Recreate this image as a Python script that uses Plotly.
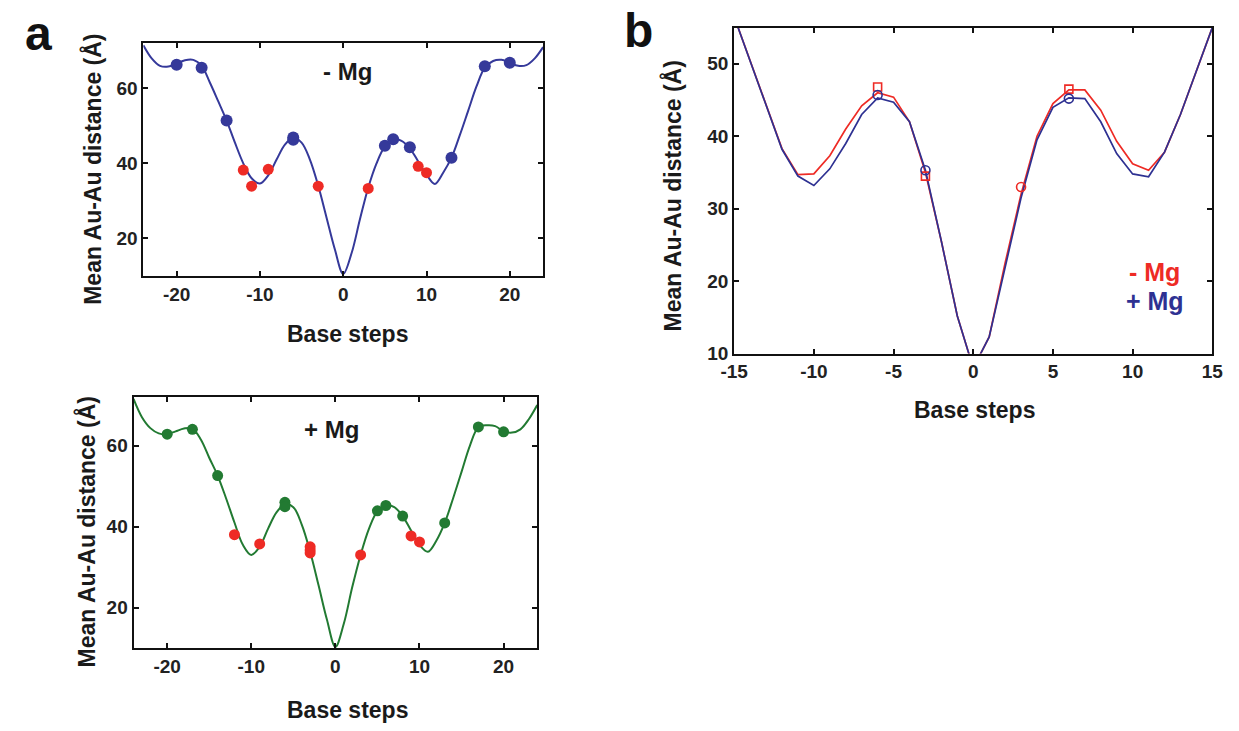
import plotly.graph_objects as go

# ---------------- panel a: fitted Au-Au distance profiles ----------------
steps_a = list(range(-24, 25))

fit_minus_mg = [71.5, 68.0, 66.0, 65.8, 66.6, 67.5, 67.6, 66.0, 61.5, 56.5,
                51.4, 45.5, 40.0, 36.0, 34.6, 36.8, 41.0, 45.0, 46.8, 45.5,
                41.0, 34.0, 25.5, 17.0, 10.5, 16.0, 25.0, 33.5, 40.0, 44.5,
                46.5, 46.0, 44.0, 40.5, 37.0, 34.5, 37.5, 41.5, 47.5, 54.0,
                60.5, 65.5, 67.3, 67.6, 66.8, 66.0, 66.2, 68.0, 71.0]

fit_plus_mg = [71.5, 67.0, 64.3, 63.0, 62.8, 63.5, 64.2, 64.2, 61.5, 57.0,
               52.6, 47.0, 41.0, 35.5, 33.0, 35.0, 39.5, 43.5, 45.5, 44.8,
               40.5, 33.8, 25.5, 17.0, 10.3, 16.0, 25.0, 33.0, 39.5, 43.8,
               45.3, 44.8, 42.6, 39.0, 35.5, 33.8, 36.5, 40.9, 47.0, 53.5,
               60.0, 64.5, 65.0, 64.8, 63.5, 63.2, 64.0, 66.5, 70.0]

# measured points (-Mg): reference constructs and new constructs
ref_x_minus = [-20, -17, -14, -6, -6, 5, 6, 8, 13, 17, 20]
ref_y_minus = [66.3, 65.5, 51.4, 46.3, 46.9, 44.7, 46.4, 44.3, 41.5, 65.9, 66.8]
new_x_minus = [-12, -11, -9, -3, 3, 9, 10]
new_y_minus = [38.2, 33.9, 38.4, 33.9, 33.3, 39.2, 37.5]

# measured points (+Mg)
ref_x_plus = [-20, -17, -14, -6, -6, 5, 6, 8, 13, 17, 20]
ref_y_plus = [62.8, 64.0, 52.6, 46.0, 44.9, 43.9, 45.2, 42.6, 40.9, 64.6, 63.4]
new_x_plus = [-12, -9, -3, -3, -3, 3, 9, 10]
new_y_plus = [38.0, 35.7, 35.0, 34.2, 33.5, 33.0, 37.7, 36.2]

# ---------------- panel b: comparison of the two conditions ----------------
steps_b = list(range(-15, 16))
line_minus_mg = [56.5, 50.5, 44.3, 38.3, 34.7, 34.8, 37.3, 41.0, 44.2, 46.0,
                 45.4, 42.0, 35.0, 25.5, 15.2, 8.0, 12.3, 22.5, 32.0, 40.0,
                 44.5, 46.4, 46.4, 43.6, 39.3, 36.2, 35.3, 37.8, 43.0, 49.0, 55.0]
line_plus_mg = [56.5, 50.5, 44.3, 38.2, 34.5, 33.2, 35.5, 39.0, 43.0, 45.3,
                44.7, 42.0, 35.3, 25.5, 15.2, 8.0, 12.3, 22.0, 31.5, 39.5,
                44.0, 45.3, 45.2, 42.0, 37.6, 34.8, 34.4, 37.8, 43.0, 49.0, 55.0]

sq_x_minus = [-6, -3, 6]
sq_y_minus = [46.8, 34.5, 46.5]
circ_x_minus = [3]
circ_y_minus = [33.0]
circ_x_plus = [-6, -3, 6]
circ_y_plus = [45.7, 35.3, 45.2]

# tick positions and labels (plain hyphen for negatives)
ticks_a_x = [-20, -10, 0, 10, 20]
ticks_a_y = [20, 40, 60]
ticks_b_x = [-15, -10, -5, 0, 5, 10, 15]
ticks_b_y = [10, 20, 30, 40, 50]

BLUE = "#35399a"
NAVY = "#2e3192"
RED = "#ee2b25"
GREEN = "#227a32"
FONT = "Liberation Sans, Arial, sans-serif"

fig = go.Figure()

# panel a, top (-Mg)
fig.add_trace(go.Scatter(x=steps_a, y=fit_minus_mg, mode="lines",
                         line=dict(color=BLUE, width=2, shape="spline", smoothing=1.0),
                         xaxis="x", yaxis="y", showlegend=False))
fig.add_trace(go.Scatter(x=ref_x_minus, y=ref_y_minus, mode="markers",
                         marker=dict(color=BLUE, size=12),
                         xaxis="x", yaxis="y", showlegend=False))
fig.add_trace(go.Scatter(x=new_x_minus, y=new_y_minus, mode="markers",
                         marker=dict(color=RED, size=11),
                         xaxis="x", yaxis="y", showlegend=False))

# panel a, bottom (+Mg)
fig.add_trace(go.Scatter(x=steps_a, y=fit_plus_mg, mode="lines",
                         line=dict(color=GREEN, width=2, shape="spline", smoothing=1.0),
                         xaxis="x2", yaxis="y2", showlegend=False))
fig.add_trace(go.Scatter(x=ref_x_plus, y=ref_y_plus, mode="markers",
                         marker=dict(color=GREEN, size=11),
                         xaxis="x2", yaxis="y2", showlegend=False))
fig.add_trace(go.Scatter(x=new_x_plus, y=new_y_plus, mode="markers",
                         marker=dict(color=RED, size=11),
                         xaxis="x2", yaxis="y2", showlegend=False))

# panel b
fig.add_trace(go.Scatter(x=steps_b, y=line_minus_mg, mode="lines",
                         line=dict(color=RED, width=1.7),
                         xaxis="x3", yaxis="y3", showlegend=False))
fig.add_trace(go.Scatter(x=steps_b, y=line_plus_mg, mode="lines",
                         line=dict(color=NAVY, width=1.7),
                         xaxis="x3", yaxis="y3", showlegend=False))
fig.add_trace(go.Scatter(x=sq_x_minus, y=sq_y_minus, mode="markers",
                         marker=dict(symbol="square-open", color=RED, size=8,
                                     line=dict(width=1.6, color=RED)),
                         xaxis="x3", yaxis="y3", showlegend=False))
fig.add_trace(go.Scatter(x=circ_x_minus, y=circ_y_minus, mode="markers",
                         marker=dict(symbol="circle-open", color=RED, size=9,
                                     line=dict(width=1.6, color=RED)),
                         xaxis="x3", yaxis="y3", showlegend=False))
fig.add_trace(go.Scatter(x=circ_x_plus, y=circ_y_plus, mode="markers",
                         marker=dict(symbol="circle-open", color=NAVY, size=9,
                                     line=dict(width=1.6, color=NAVY)),
                         xaxis="x3", yaxis="y3", showlegend=False))

W, H = 1239, 731


def px_x(p):
    return p / W


def px_y(p):
    return 1 - p / H


def labels(vals):
    return [str(v) for v in vals]


axis_common = dict(showline=True, linewidth=2, linecolor="#111", mirror="ticks",
                   ticks="inside", ticklen=5, tickwidth=1.5, tickcolor="#111",
                   showgrid=False, zeroline=False,
                   tickfont=dict(family=FONT, size=19, color="#222", weight="bold"))

fig.update_layout(
    width=W, height=H, margin=dict(l=0, r=0, t=0, b=0),
    paper_bgcolor="white", plot_bgcolor="white",
    xaxis=dict(domain=[px_x(132), px_x(540)], range=[-24, 24],
               tickvals=ticks_a_x, ticktext=labels(ticks_a_x), anchor="y", **axis_common),
    yaxis=dict(domain=[px_y(280), px_y(44)], range=[10, 72],
               tickvals=ticks_a_y, ticktext=labels(ticks_a_y), anchor="x", **axis_common),
    xaxis2=dict(domain=[px_x(122), px_x(534)], range=[-24, 24],
                tickvals=ticks_a_x, ticktext=labels(ticks_a_x), anchor="y2", **axis_common),
    yaxis2=dict(domain=[px_y(658), px_y(403)], range=[10, 72],
                tickvals=ticks_a_y, ticktext=labels(ticks_a_y), anchor="x2", **axis_common),
    xaxis3=dict(domain=[px_x(735), px_x(1223)], range=[-15, 15],
                tickvals=ticks_b_x, ticktext=labels(ticks_b_x), anchor="y3", **axis_common),
    yaxis3=dict(domain=[px_y(359), px_y(28)], range=[10, 55],
                tickvals=ticks_b_y, ticktext=labels(ticks_b_y), anchor="x3", **axis_common),
)

ann = []


def paper_text(x, y, text, size, color="#1a1a1a", angle=0):
    ann.append(dict(x=px_x(x), y=px_y(y), xref="paper", yref="paper",
                    text=text, showarrow=False, textangle=angle,
                    xanchor="center", yanchor="middle",
                    font=dict(family=FONT, size=size, color=color, weight="bold")))


# panel letters
paper_text(25, 34, "a", 48, "#111")
paper_text(637, 31, "b", 48, "#111")

# axis titles
ytitle = "Mean Au-Au distance (Å)"
paper_text(80, 172, ytitle, 23, angle=-90)
paper_text(340, 339, "Base steps", 23)
paper_text(74, 540, ytitle, 23, angle=-90)
paper_text(340, 721, "Base steps", 23)
paper_text(672, 199, ytitle, 23, angle=-90)
paper_text(980, 416, "Base steps", 23)

# in-panel labels
ann.append(dict(x=0.5, y=64.5, xref="x", yref="y", text="- Mg", showarrow=False,
                font=dict(family=FONT, size=24, color="#1a1a1a", weight="bold")))
ann.append(dict(x=-0.5, y=64.0, xref="x2", yref="y2", text="+ Mg", showarrow=False,
                font=dict(family=FONT, size=24, color="#1a1a1a", weight="bold")))
ann.append(dict(x=11.4, y=21.2, xref="x3", yref="y3", text="- Mg", showarrow=False,
                font=dict(family=FONT, size=25, color=RED, weight="bold")))
ann.append(dict(x=11.4, y=17.2, xref="x3", yref="y3", text="+ Mg", showarrow=False,
                font=dict(family=FONT, size=25, color=NAVY, weight="bold")))

fig.update_layout(annotations=ann)

fig.write_html("out.html")
